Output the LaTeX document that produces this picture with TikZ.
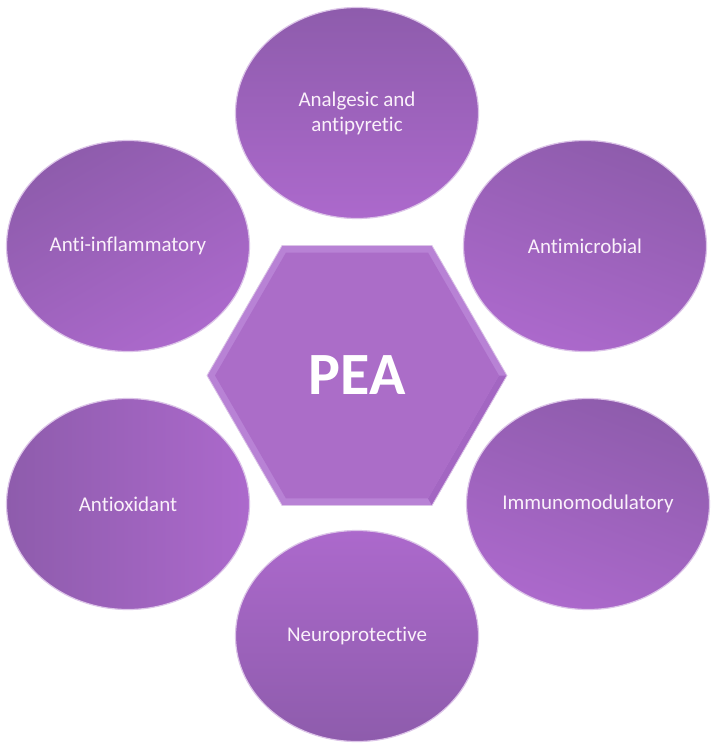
\documentclass[tikz,border=0pt]{standalone}
\usepackage{fontspec}
\setmainfont{Carlito}[Ligatures={NoCommon}]
\usetikzlibrary{shapes.geometric}
\definecolor{bubdark}{HTML}{8E5CAC}
\definecolor{bublight}{HTML}{AC69CC}
\definecolor{hexfill}{HTML}{AB6DC8}
\definecolor{hexbevel}{HTML}{B882D5}
\definecolor{hexshade}{HTML}{A366C2}
\definecolor{rim}{HTML}{DCC4E8}
\definecolor{txt}{HTML}{FAF0FA}
\tikzset{
  bubble/.style={ellipse, minimum width=243pt, minimum height=211pt, inner sep=0pt,
    draw=rim, line width=1.2pt, top color=bubdark, bottom color=bublight,
    text=txt, font=\fontsize{21}{25}\selectfont, align=center},
  hexlabel/.style={text=white, font=\bfseries\fontsize{60}{60}\selectfont, inner sep=0pt}
}
\begin{document}
\begin{tikzpicture}[x=1pt,y=-1pt]
\useasboundingbox (0,0) rectangle (718,752);
\fill[white] (0,0) rectangle (718,752);
% central hexagon with bevel
\begin{scope}[shift={(357,375.5)}]
  \fill[hexbevel] (0:150) -- (60:150) -- (120:150) -- (180:150) -- (240:150) -- (300:150) -- cycle;
  \fill[hexshade] (0:150) -- (60:150) -- (60:142) -- (0:142) -- cycle;
  \fill[hexfill] (0:142) -- (60:142) -- (120:142) -- (180:142) -- (240:142) -- (300:142) -- cycle;
  \draw[rim, line width=0.8pt] (0:150) -- (60:150) -- (120:150) -- (180:150) -- (240:150) -- (300:150) -- cycle;
\end{scope}
\node[hexlabel] (pea) at (357,375.5) {PEA};
% surrounding ellipses
\node[bubble, shading angle=0] (analg) at (357,113) {Analgesic and\\antipyretic};
\node[bubble, shading angle=30] (inflam) at (128,246) {Anti-inflammatory};
\node[bubble, shading angle=-20] (microb) at (585,246) {Antimicrobial};
\node[bubble, shading angle=90] (oxid) at (128,504) {Antioxidant};
\node[bubble, shading angle=-20] (immuno) at (588,504) {Immunomodulatory};
\node[bubble, shading angle=180] (neuro) at (357,636) {Neuroprotective};
\end{tikzpicture}
\end{document}
